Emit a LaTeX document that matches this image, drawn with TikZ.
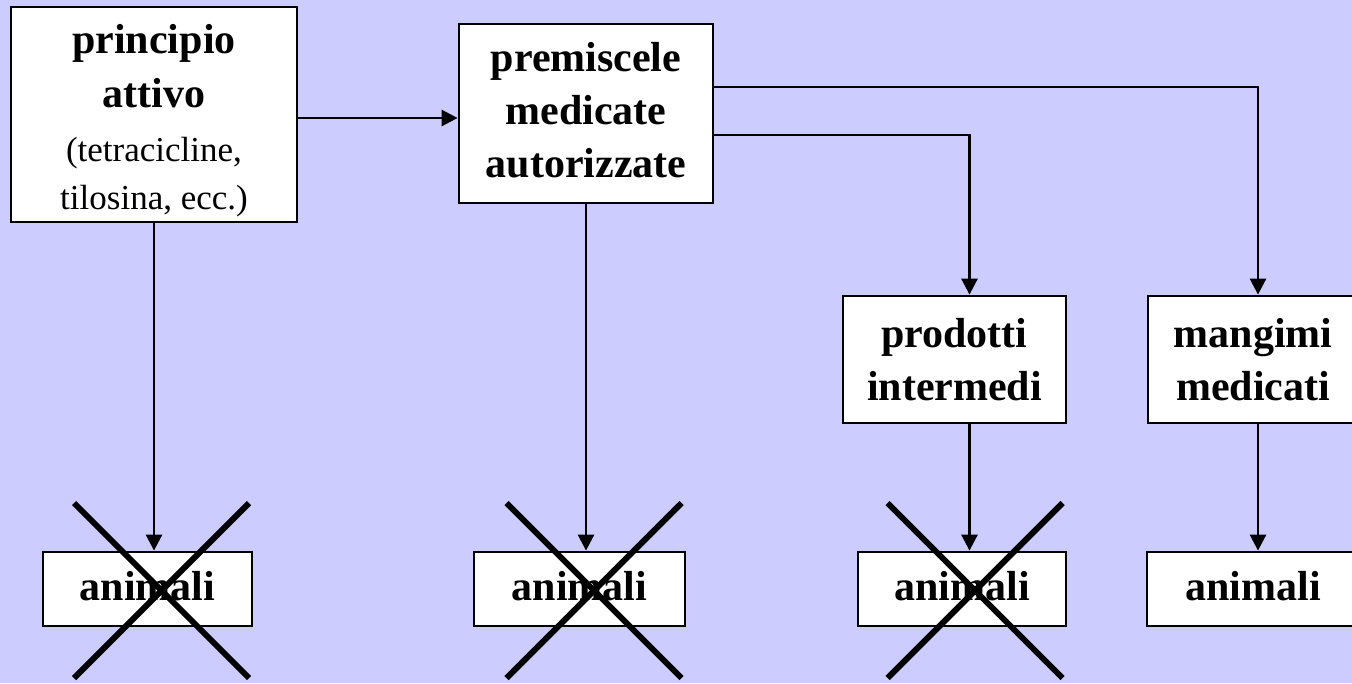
\documentclass[tikz,border=0pt]{standalone}
\usepackage{fontspec}
\setmainfont{Liberation Serif}
\usetikzlibrary{arrows.meta}
\definecolor{bgc}{HTML}{CCCCFF}
\newcommand{\smallreg}{\mdseries\fontsize{35}{46}\selectfont}
\newcommand{\lowdepth}{\rule[-7pt]{0pt}{7pt}}
\begin{document}
\begin{tikzpicture}[x=1pt,y=-1pt,
  box/.style={draw=black, line width=2.8pt, fill=white, inner sep=0pt, align=center,
    font=\bfseries\fontsize{42}{53}\selectfont},
  conn/.style={line width=2.7pt, line join=miter, -{Triangle[length=16pt,width=16pt]}},
  cross/.style={line width=6pt}
]
\useasboundingbox (0,0) rectangle (1352,683);
\clip (0,0) rectangle (1352,683);
\fill[bgc] (0,0) rectangle (1352,683);

\node[box, minimum width=286pt, minimum height=215pt] (b1) at (154,114.5)
  {\rule{0pt}{41.5pt}principio\\[1pt]attivo\\[1pt]\smallreg(tetracicline,\\[-5pt]\smallreg tilosina, ecc.)};
\node[box, minimum width=254pt, minimum height=179pt] (b2) at (586,113.5)
  {premiscele\\medicate\\autorizzate\lowdepth};
\node[box, minimum width=223pt, minimum height=127pt] (b3) at (954.5,359.5)
  {prodotti\\intermedi};
\node[box, minimum width=210pt, minimum height=127pt] (b4) at (1253,359.5)
  {mangimi\\medicati};

\node[box, minimum width=209pt, minimum height=74pt] (a1) at (147.5,589) {animali\lowdepth};
\node[box, minimum width=211pt, minimum height=74pt] (a2) at (579.5,589) {animali\lowdepth};
\node[box, minimum width=208pt, minimum height=74pt] (a3) at (962,589) {animali\lowdepth};
\node[box, minimum width=212pt, minimum height=74pt] (a4) at (1253,589) {animali\lowdepth};

\draw[conn] ([yshift=-3.5pt]b1.east) -- ([yshift=-3.5pt]b1.east -| b2.west);
\draw[conn] ([yshift=26.5pt]b2.east) -| ([xshift=5pt]b4.north);
\draw[conn] ([yshift=-21.5pt]b2.east) -| ([xshift=15pt]b3.north);
\draw[conn] (b1.south) -- (b1.south |- a1.north);
\draw[conn] (b2.south) -- (b2.south |- a2.north);
\draw[conn] ([xshift=15pt]b3.south) -- ([xshift=15pt]b3.south |- a3.north);
\draw[conn] ([xshift=5pt]b4.south) -- ([xshift=5pt]b4.south |- a4.north);

\foreach \n/\dx in {a1/14, a2/14.5, a3/13} {
  \draw[cross] ([shift={(\dx-87.5,1.5-87.5)}]\n.center) -- ([shift={(\dx+87.5,1.5+87.5)}]\n.center);
  \draw[cross] ([shift={(\dx-87.5,1.5+87.5)}]\n.center) -- ([shift={(\dx+87.5,1.5-87.5)}]\n.center);
}
\end{tikzpicture}
\end{document}
